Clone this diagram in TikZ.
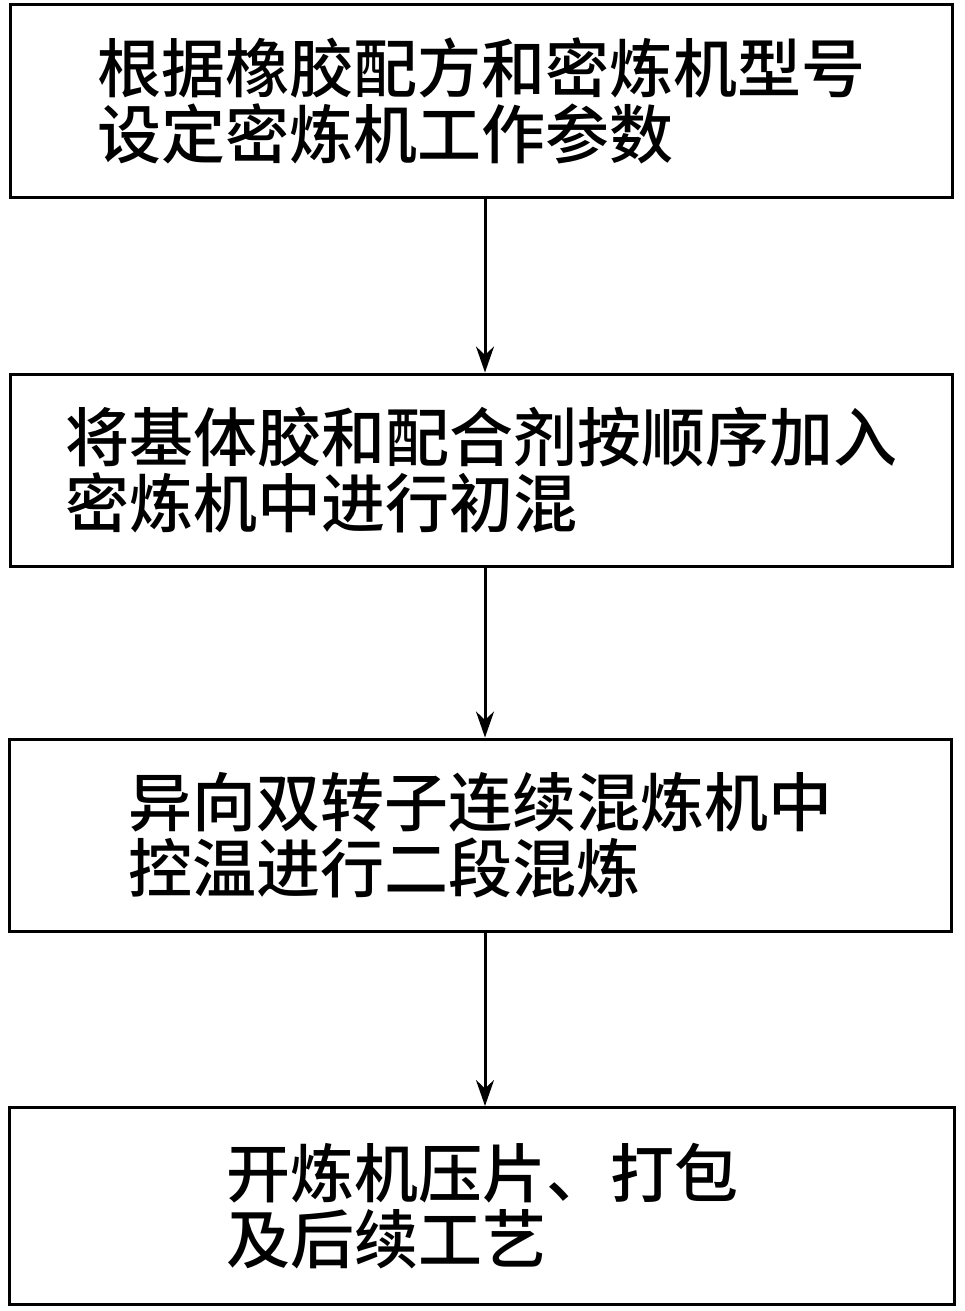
\documentclass[tikz,border=0pt]{standalone}
\usepackage{fontspec}
\newfontfamily\cjk{Noto Sans CJK SC Medium}
\usetikzlibrary{arrows.meta}

\begin{document}
\begin{tikzpicture}[x=1pt,y=-1pt,
  stepbox/.style={draw,line width=3pt,minimum width=942pt,minimum height=192pt,
    align=left,font=\cjk\fontsize{64}{66}\selectfont,inner sep=0pt},
  flow/.style={line width=3pt,-{Stealth[length=26pt,width=18pt]}}
]
\useasboundingbox (0,0) rectangle (965,1311);

\node[stepbox] (set) at (481,101) {根据橡胶配方和密炼机型号\\设定密炼机工作参数};
\node[stepbox] (pre) at (481,470) {将基体胶和配合剂按顺序加入\\密炼机中进行初混};
\node[stepbox] (mix) at (480,835) {异向双转子连续混炼机中\\控温进行二段混炼};
\node[stepbox,minimum width=945pt,minimum height=197pt] (out) at (482,1206) {开炼机压片、打包\\及后续工艺};

\draw[flow] (set.south -| 485,0) -- (pre.north -| 485,0);
\draw[flow] (pre.south -| 485,0) -- (mix.north -| 485,0);
\draw[flow] (mix.south -| 485,0) -- (out.north -| 485,0);

\end{tikzpicture}
\end{document}
